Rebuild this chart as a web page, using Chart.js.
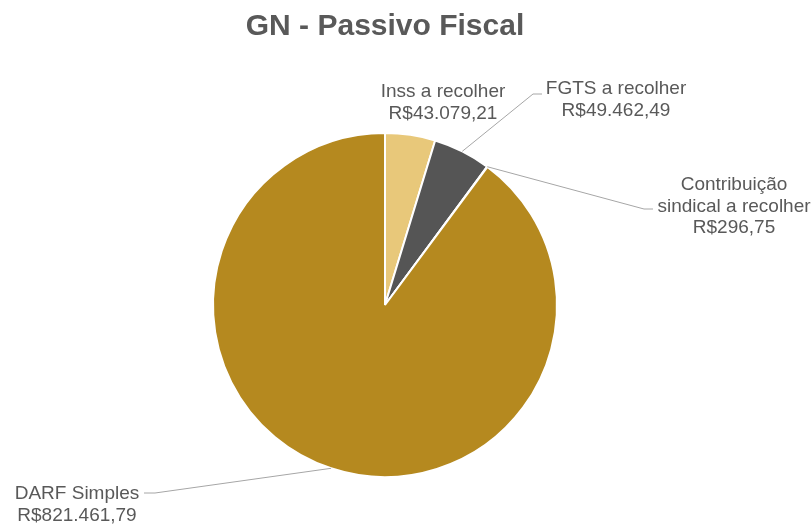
<!DOCTYPE html>
<html>
<head>
<meta charset="utf-8">
<script src="https://cdn.jsdelivr.net/npm/chart.js@4.4.1/dist/chart.umd.min.js"></script>
<style>
  html, body { margin: 0; padding: 0; background: #ffffff; }
  #wrap { width: 812px; height: 524px; }
</style>
</head>
<body>
<div id="wrap"><canvas id="c" width="812" height="524"></canvas></div>
<script>
const chartTitle = 'GN - Passivo Fiscal';
const categories = ['Inss a recolher', 'FGTS a recolher', 'Contribuição sindical a recolher', 'DARF Simples'];
const labelLines = [['Inss a recolher'], ['FGTS a recolher'], ['Contribuição', 'sindical a recolher'], ['DARF Simples']];
const values = [43079.21, 49462.49, 296.75, 821461.79];
const colors = ['#E8C87A', '#555555', '#B98C22', '#B5891F'];

function fmtBRL(v) {
  const parts = v.toFixed(2).split('.');
  const intPart = parts[0].replace(/\B(?=(\d{3})+(?!\d))/g, '.');
  return 'R$' + intPart + ',' + parts[1];
}

// label placement (annotation layout), per slice
const labelLayout = [
  { x: 443, y: 92, line: false },
  { x: 616, y: 89, line: true, elbow: [533, 94], end: [542, 94] },
  { x: 734, y: 185, line: true, elbow: [644, 209], end: [653, 209] },
  { x: 77, y: 494, line: true, elbow: [155, 493], end: [144, 493] }
];

const labelPlugin = {
  id: 'pieLabels',
  afterDatasetsDraw(chart) {
    const ctx = chart.ctx;
    const meta = chart.getDatasetMeta(0);
    ctx.save();
    // title
    ctx.fillStyle = '#595959';
    ctx.font = 'bold 30px "Liberation Sans", Arial, sans-serif';
    ctx.textAlign = 'center';
    ctx.textBaseline = 'middle';
    ctx.fillText(chartTitle, 385, 27);

    meta.data.forEach((arc, i) => {
      const L = labelLayout[i];
      const p = arc.getProps(['x', 'y', 'startAngle', 'endAngle', 'outerRadius'], true);
      const mid = (p.startAngle + p.endAngle) / 2;
      const ax = p.x + Math.cos(mid) * p.outerRadius;
      const ay = p.y + Math.sin(mid) * p.outerRadius;
      if (L.line) {
        ctx.strokeStyle = '#A6A6A6';
        ctx.lineWidth = 1;
        ctx.beginPath();
        ctx.moveTo(ax, ay);
        ctx.lineTo(L.elbow[0], L.elbow[1]);
        ctx.lineTo(L.end[0], L.end[1]);
        ctx.stroke();
      }
      const lines = labelLines[i].concat([fmtBRL(values[i])]);
      ctx.fillStyle = '#595959';
      ctx.font = '19px "Liberation Sans", Arial, sans-serif';
      ctx.textAlign = 'center';
      ctx.textBaseline = 'middle';
      lines.forEach((t, k) => ctx.fillText(t, L.x, L.y + k * 21.5));
    });
    ctx.restore();
  }
};

new Chart(document.getElementById('c'), {
  type: 'pie',
  data: {
    labels: categories,
    datasets: [{
      data: values,
      backgroundColor: colors,
      borderColor: '#ffffff',
      borderWidth: 2
    }]
  },
  options: {
    responsive: false,
    animation: false,
    devicePixelRatio: 1,
    layout: { padding: { left: 212, right: 254, top: 132, bottom: 46 } },
    plugins: {
      legend: { display: false },
      title: { display: false },
      tooltip: { enabled: false }
    }
  },
  plugins: [labelPlugin]
});
</script>
</body>
</html>
